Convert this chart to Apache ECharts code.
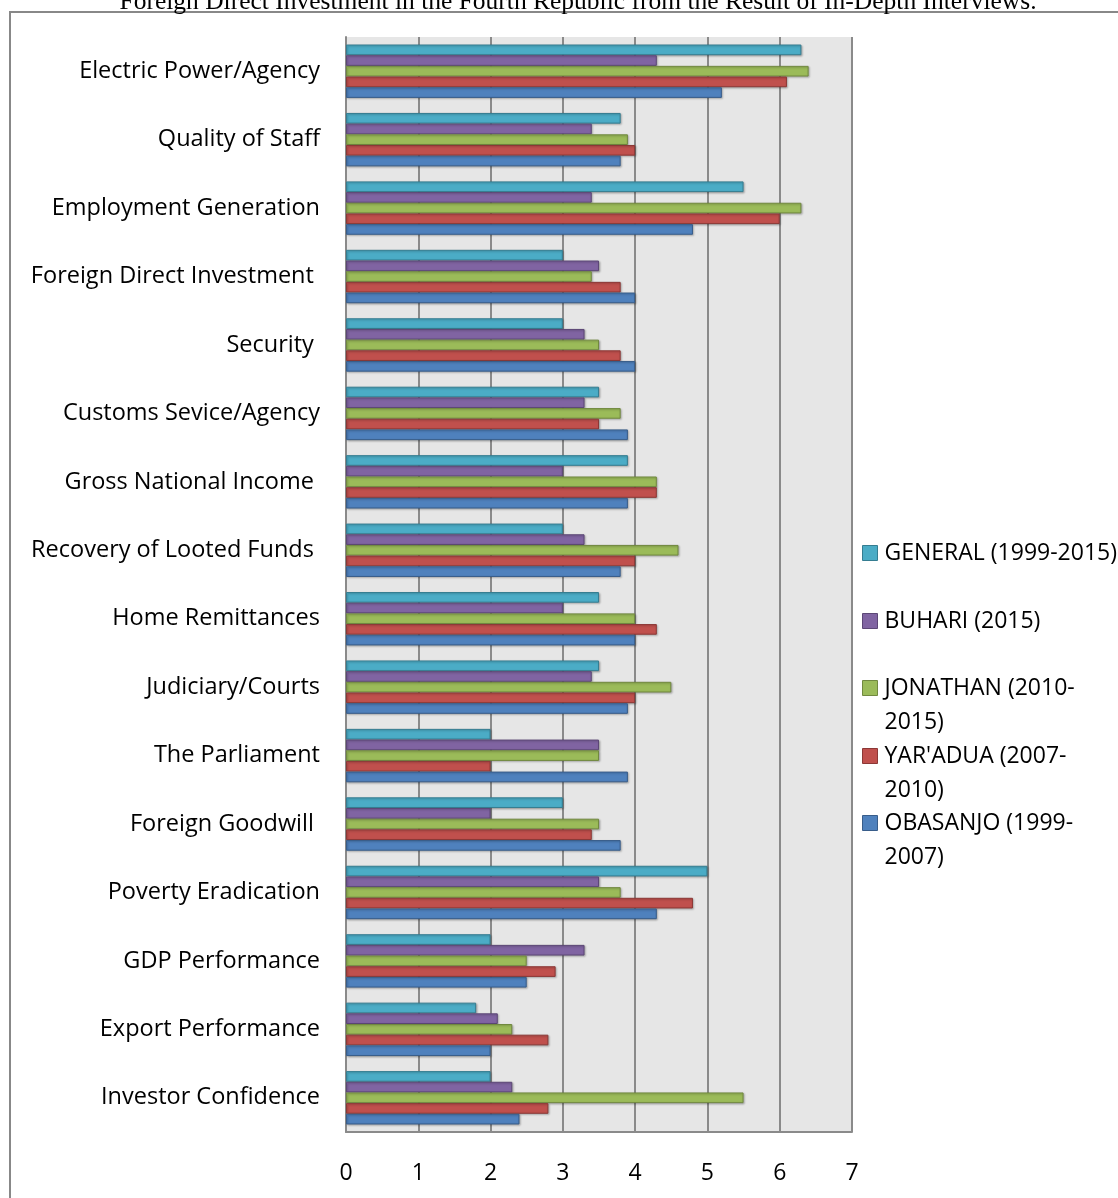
<!DOCTYPE html>
<html>
<head>
<meta charset="utf-8">
<title>FDI in the Fourth Republic</title>
<script src="https://cdn.jsdelivr.net/npm/echarts@6/dist/echarts.min.js"></script>
<style>
    html, body { margin: 0; padding: 0; background: #fff; }
    #chart { width: 1118px; height: 1198px; }
</style>
</head>
<body>
<div id="chart"></div>
<script>
// categories, top to bottom
const categories = [
    'Electric Power/Agency', 'Quality of Staff', 'Employment Generation',
    'Foreign Direct Investment ', 'Security ', 'Customs Sevice/Agency',
    'Gross National Income ', 'Recovery of Looted Funds ', 'Home Remittances',
    'Judiciary/Courts', 'The Parliament', 'Foreign Goodwill ',
    'Poverty Eradication', 'GDP Performance', 'Export Performance',
    'Investor Confidence'
];

const seriesNames = ['GENERAL (1999-2015)', 'BUHARI (2015)', 'JONATHAN (2010-2015)',
    "YAR'ADUA (2007-2010)", 'OBASANJO (1999-2007)'];

// values, same order as categories
const general  = [6.3, 3.8, 5.5, 3.0, 3.0, 3.5, 3.9, 3.0, 3.5, 3.5, 2.0, 3.0, 5.0, 2.0, 1.8, 2.0];
const buhari   = [4.3, 3.4, 3.4, 3.5, 3.3, 3.3, 3.0, 3.3, 3.0, 3.4, 3.5, 2.0, 3.5, 3.3, 2.1, 2.3];
const jonathan = [6.4, 3.9, 6.3, 3.4, 3.5, 3.8, 4.3, 4.6, 4.0, 4.5, 3.5, 3.5, 3.8, 2.5, 2.3, 5.5];
const yaradua  = [6.1, 4.0, 6.0, 3.8, 3.8, 3.5, 4.3, 4.0, 4.3, 4.0, 2.0, 3.4, 4.8, 2.9, 2.8, 2.8];
const obasanjo = [5.2, 3.8, 4.8, 4.0, 4.0, 3.9, 3.9, 3.8, 4.0, 3.9, 3.9, 3.8, 4.3, 2.5, 2.0, 2.4];

const xTicks = [0, 1, 2, 3, 4, 5, 6, 7];

const fills   = ['#4BACC6', '#8064A2', '#9BBB59', '#C0504D', '#4F81BD'];
const borders = ['#357D91', '#5C4776', '#71893F', '#8C3836', '#385D8A'];

const chart = echarts.init(document.getElementById('chart'));

const allValues = [general, buhari, jonathan, yaradua, obasanjo];

const labelFont = '"Open Sans", "Noto Sans", sans-serif';

// one legend per entry so the spacing follows the picture
const legendCenters = [553, 621, 688, 756, 823];
const legendText = ['GENERAL (1999-2015)', 'BUHARI (2015)', 'JONATHAN (2010-\n2015)',
    "YAR'ADUA (2007-\n2010)", 'OBASANJO (1999-\n2007)'];

const legends = seriesNames.map(function (name, i) {
    const twoLines = legendText[i].indexOf('\n') >= 0;
    return {
        data: [name],
        left: 862,
        // a blank first line keeps the icon level with the first text line
        top: twoLines ? legendCenters[i] - 51 : legendCenters[i] - 17,
        padding: 0,
        itemWidth: 15,
        itemHeight: 15,
        itemGap: 0,
        icon: 'rect',
        selectedMode: false,
        itemStyle: { borderColor: borders[i], borderWidth: 1 },
        formatter: function () { return twoLines ? '\n' + legendText[i] : legendText[i]; },
        textStyle: {
            fontFamily: labelFont,
            fontSize: 23,
            color: '#000',
            lineHeight: 34,
            padding: [0, 0, 0, 2]
        }
    };
});

chart.setOption({
    animation: false,
    backgroundColor: '#fff',
    graphic: [
        {
            type: 'rect',
            shape: { x: 10, y: 12, width: 1200, height: 1300 },
            style: { fill: 'none', stroke: '#888', lineWidth: 2 },
            z: -1
        },
        {
            type: 'text',
            x: 578,
            y: 2,
            style: {
                text: 'Foreign Direct Investment in the Fourth Republic from the Result of In-Depth Interviews.',
                font: '25.5px "Liberation Serif", "Times New Roman", serif',
                fill: '#000',
                align: 'center',
                verticalAlign: 'middle'
            }
        }
    ],
    legend: legends,
    grid: {
        left: 346,
        right: 266,
        top: 37,
        bottom: 66,
        show: true,
        backgroundColor: '#E6E6E6',
        borderWidth: 0
    },
    xAxis: {
        type: 'value',
        min: 0,
        max: 7,
        interval: 1,
        axisLine: { show: true, lineStyle: { color: '#8a8a8a', width: 2 } },
        axisTick: { show: false },
        splitLine: { show: true, lineStyle: { color: '#8a8a8a', width: 2 } },
        axisLabel: {
            margin: 30,
            fontFamily: labelFont,
            fontSize: 23,
            color: '#000',
            formatter: function (v) { return xTicks.indexOf(v) >= 0 ? String(v) : ''; }
        }
    },
    yAxis: {
        type: 'category',
        data: categories,
        inverse: true,
        axisLine: { show: true, lineStyle: { color: '#8a8a8a', width: 2 } },
        axisTick: { show: false },
        axisLabel: {
            margin: 26,
            fontFamily: labelFont,
            fontSize: 23.5,
            color: '#000'
        }
    },
    series: seriesNames.map(function (name, i) {
        return {
            name: name,
            type: 'bar',
            data: allValues[i],
            barGap: 0,
            barCategoryGap: '22%',
            itemStyle: {
                color: fills[i],
                borderColor: borders[i],
                borderWidth: 1,
                shadowColor: 'rgba(0,0,0,0.25)',
                shadowBlur: 2,
                shadowOffsetX: 1,
                shadowOffsetY: 1
            }
        };
    })
});
</script>
</body>
</html>
